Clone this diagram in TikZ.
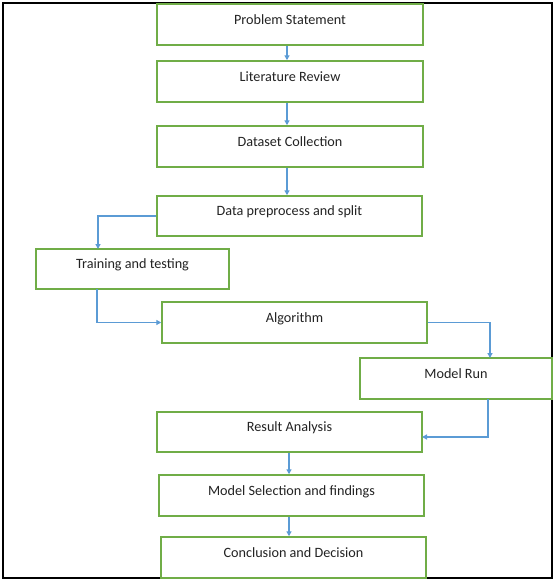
\documentclass[tikz,border=0pt]{standalone}
\usepackage{fontspec}
\setmainfont{Carlito}
\usetikzlibrary{arrows.meta}
\definecolor{boxgreen}{RGB}{112,173,71}
\definecolor{arrblue}{RGB}{91,155,213}
\definecolor{txt}{RGB}{35,35,35}
\tikzset{
  stepbox/.style={draw=boxgreen, line width=1.5pt, fill=white, text=txt,
    font=\fontsize{14.2}{16}\selectfont, inner sep=0pt,
    text height=10pt, text depth=11pt},
  arr/.style={draw=arrblue, line width=1.3pt, -{Triangle[length=5pt,width=5pt]}}
}
\begin{document}
\begin{tikzpicture}[x=1pt,y=-1pt]
\useasboundingbox (0,0) rectangle (554,581);
\fill[white] (0,0) rectangle (554,581);
\draw[black, line width=2pt] (3,3) rectangle (552,578);
% boxes
\node[stepbox, minimum width=266pt, minimum height=41pt] (ps) at (290,24.5) {Problem Statement};
\node[stepbox, minimum width=266pt, minimum height=41pt] (lr) at (290,81.5) {Literature Review};
\node[stepbox, minimum width=266pt, minimum height=41pt] (dc) at (290,146.5) {Dataset Collection};
\node[stepbox, minimum width=265pt, minimum height=40pt] (dp) at (289.5,216) {Data preprocess and split};
\node[stepbox, minimum width=193pt, minimum height=40pt] (tt) at (132.5,269) {Training and testing};
\node[stepbox, minimum width=265pt, minimum height=41pt] (alg) at (294.5,322.5) {Algorithm};
\node[stepbox, minimum width=192pt, minimum height=41pt] (mr) at (456,378.5) {Model Run};
\node[stepbox, minimum width=265pt, minimum height=40pt] (ra) at (289.5,432) {Result Analysis};
\node[stepbox, minimum width=265pt, minimum height=41pt] (ms) at (291.5,495.5) {Model Selection and findings};
\node[stepbox, minimum width=265pt, minimum height=41pt] (cd) at (293.5,557.5) {Conclusion and Decision};
% connector ends
\coordinate (ttin) at (98,249);
\coordinate (ttout) at (97,289);
\coordinate (mrin) at (490,358);
\coordinate (mrout) at (488,399);
\coordinate (rain) at (422,437);
% connectors
\draw[arr] (ps.south -| 287,0) -- (lr.north -| 287,0);
\draw[arr] (lr.south -| 287,0) -- (dc.north -| 287,0);
\draw[arr] (dc.south -| 287,0) -- (dp.north -| 287,0);
\draw[arr] (dp.west) -| (ttin);
\draw[arr] (ttout) |- (alg.west);
\draw[arr] (alg.east) -| (mrin);
\draw[arr] (mrout) |- (rain);
\draw[arr] (ra.south -| 289,0) -- (ms.north -| 289,0);
\draw[arr] (ms.south -| 289,0) -- (cd.north -| 289,0);
\end{tikzpicture}
\end{document}
